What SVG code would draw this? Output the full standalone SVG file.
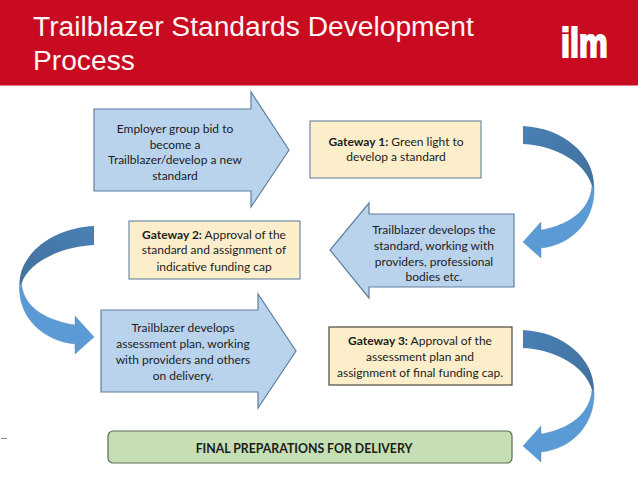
<svg xmlns="http://www.w3.org/2000/svg" width="638" height="479" viewBox="0 0 638 479">
<defs>
<linearGradient id="dk" x1="0" y1="0" x2="1" y2="1"><stop offset="0" stop-color="#4a80b6"/><stop offset="1" stop-color="#41709c"/></linearGradient>
<linearGradient id="dk2" x1="1" y1="0" x2="0" y2="1"><stop offset="0" stop-color="#4a80b6"/><stop offset="1" stop-color="#41709c"/></linearGradient>
</defs>
<style>
.t{font-family:"Lato","Open Sans",sans-serif;font-size:12px;fill:#1c1c1c;text-anchor:middle}
.b{font-weight:700}
.arrow{fill:#bad3ec;stroke:#5f7f9f;stroke-width:1.2}
.gate{fill:#fdeecb;stroke:#6f8ba3;stroke-width:1.2}
.dark{stroke:#4a4a3e}
.h{font-family:"Liberation Sans",Arial,sans-serif;font-size:28.2px;fill:#fdf3f4}
.cl{fill:#5b9bd5;stroke:#4f86b8;stroke-width:.4}
</style>
<rect width="638" height="479" fill="#fff"/>
<g id="header">
<rect width="638" height="85" fill="#c80b20"/>
<rect y="85" width="638" height="1" fill="#e8818c"/>
<text class="h" x="33" y="36">Trailblazer Standards Development</text>
<text class="h" x="33" y="69.500">Process</text>
<text transform="translate(561 56.500) scale(.95 1.2)" font-family="Liberation Sans,Arial,sans-serif" font-weight="700" font-size="34" fill="#fff" stroke="#fff" stroke-width="1.8">ilm</text>
</g>
<g id="connectors">
<g id="curve1"><path fill="url(#dk)" d="M523 126C564 128 594 155 594 186L592 186C586 165 560 146 523 144Z"/><path class="cl" d="M594 186C596 220 572 245 541 248V258L523 242L541 222V230C566 226 590 212 592 186Z"/></g>
<g id="curve2"><path fill="url(#dk2)" d="M94 226C52 228 19.500 254 19.500 284L21.500 284C27 264 58 247 94 245Z"/><path class="cl" d="M19.500 284C17.500 318 44 341 75 344V354L94 337L75 316V325C50 321 24 310 21.500 284Z"/></g>
<g id="curve3" transform="translate(0 204)"><path fill="url(#dk)" d="M523 126C564 128 594 155 594 186L592 186C586 165 560 146 523 144Z"/><path class="cl" d="M594 186C596 220 572 245 541 248V258L523 242L541 222V230C566 226 590 212 592 186Z"/></g>
</g>
<g id="node1"><path class="arrow" d="M94 109H251V92L289 150L251 207V191H94Z"/><text class="t" x="175" y="133">Employer group bid to</text><text class="t" x="175" y="149">become a</text><text class="t" x="175" y="164">Trailblazer/develop a new</text><text class="t" x="175" y="180">standard</text></g>
<g id="node2"><rect class="gate" x="310" y="121" width="171" height="57"/><text class="t" x="396" y="146"><tspan class="b">Gateway 1:</tspan> Green light to</text><text class="t" x="396" y="161">develop a standard</text></g>
<g id="node3"><path class="arrow" d="M514 214H369V203L330 250L369 298V287H514Z"/><text class="t" x="434" y="234">Trailblazer develops the</text><text class="t" x="434" y="250">standard, working with</text><text class="t" x="434" y="266">providers, professional</text><text class="t" x="434" y="281">bodies etc.</text></g>
<g id="node4"><rect class="gate" x="129" y="221" width="171" height="58"/><text class="t" x="214" y="239"><tspan class="b">Gateway 2:</tspan> Approval of the</text><text class="t" x="214" y="254">standard and assignment of</text><text class="t" x="214" y="271">indicative funding cap</text></g>
<g id="node5"><path class="arrow" d="M101 310H258V294L296 351L258 408V392H101Z"/><text class="t" x="183" y="332">Trailblazer develops</text><text class="t" x="183" y="348">assessment plan, working</text><text class="t" x="183" y="364">with providers and others</text><text class="t" x="183" y="380">on delivery.</text></g>
<g id="node6"><rect class="gate dark" x="329" y="327" width="183" height="58"/><text class="t" x="420" y="345"><tspan class="b">Gateway 3:</tspan> Approval of the</text><text class="t" x="420" y="361">assessment plan and</text><text class="t" x="420" y="377">assignment of final funding cap.</text></g>
<g id="node7"><rect x="108" y="431" width="404" height="32" rx="5" fill="#c6deb3" stroke="#5f6b5a" stroke-width="1.2"/><text class="t b" x="304" y="453" style="font-size:12.300px">FINAL PREPARATIONS FOR DELIVERY</text></g>
<rect x="1" y="438" width="6" height="1" fill="#888"/>
</svg>
